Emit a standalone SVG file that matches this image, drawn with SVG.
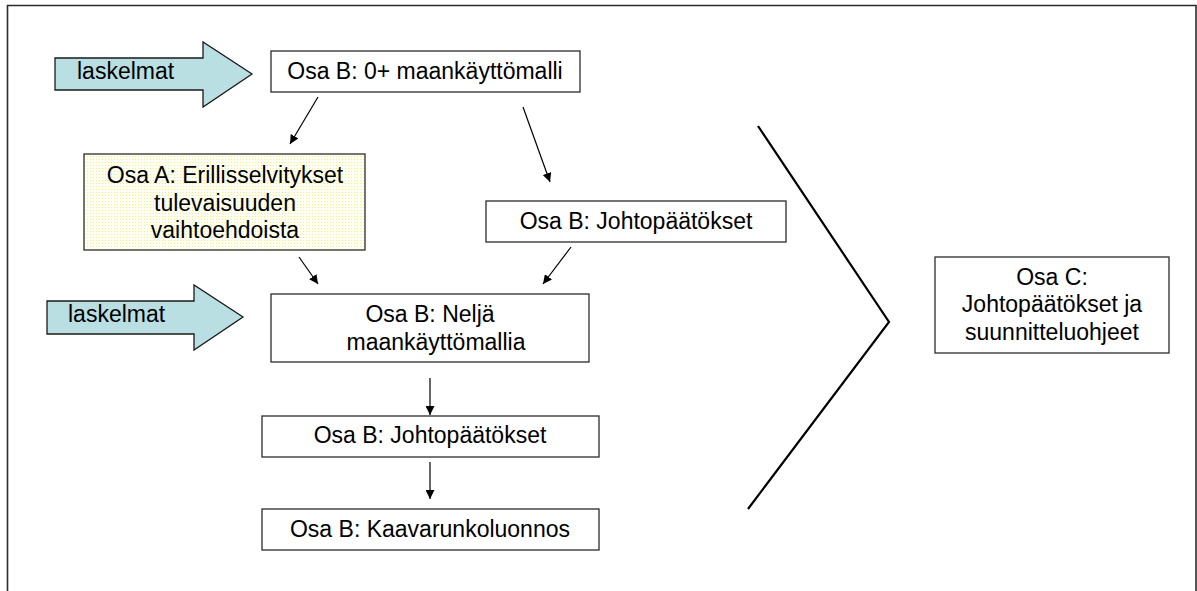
<svg xmlns="http://www.w3.org/2000/svg" width="1197" height="591" viewBox="0 0 1197 591">
<style>
.box{fill:#fff;stroke:#2b2b2b;stroke-width:1.3}
.t{font-family:"Liberation Sans",Arial,sans-serif;font-size:23px;fill:#000;text-anchor:middle}
.tl{font-family:"Liberation Sans",Arial,sans-serif;font-size:23px;fill:#000}
.big{fill:#B9DFE2;stroke:#1a1a1a;stroke-width:1.3}
.con{stroke:#000;stroke-width:1.2;fill:none;marker-end:url(#ah)}
</style>
<defs>
<marker id="ah" viewBox="0 0 10 10" refX="10" refY="5" markerWidth="9" markerHeight="9" markerUnits="userSpaceOnUse" orient="auto">
<path d="M0,0 L10,5 L0,10 z" fill="#000"/>
</marker>
<pattern id="dots" width="3" height="3" patternUnits="userSpaceOnUse">
<rect width="3" height="3" fill="#fffff4"/>
<rect width="1" height="1" fill="#f2f28a"/>
</pattern>
</defs>
<rect width="1197" height="591" fill="#fff"/>
<path d="M7.5,592 V5.5 H1196 V592" fill="none" stroke="#2b2b2b" stroke-width="1.6"/>

<g id="laskelmat1">
<path class="big" d="M55,58 H203 V42 L252,74 L203,107 V90 H55 Z"/>
<text class="tl" x="77" y="79">laskelmat</text>
</g>
<g id="laskelmat2">
<path class="big" d="M47,301 H194 V285 L243,317 L194,350 V334 H47 Z"/>
<text class="tl" x="68" y="322">laskelmat</text>
</g>

<g id="b0">
<rect class="box" x="271" y="51" width="309" height="41"/>
<text class="t" x="425" y="79">Osa B: 0+ maankäyttömalli</text>
</g>
<g id="a">
<rect x="84" y="154" width="281" height="96" fill="url(#dots)" stroke="#2b2b2b" stroke-width="1.3"/>
<text class="t" x="225" y="183">Osa A: Erillisselvitykset</text>
<text class="t" x="225" y="211">tulevaisuuden</text>
<text class="t" x="225" y="238">vaihtoehdoista</text>
</g>
<g id="bj1">
<rect class="box" x="486" y="201" width="300" height="41"/>
<text class="t" x="636" y="229">Osa B: Johtopäätökset</text>
</g>
<g id="bn">
<rect class="box" x="271" y="294" width="318" height="68"/>
<text class="t" x="430" y="322">Osa B: Neljä</text>
<text class="t" x="436" y="350">maankäyttömallia</text>
</g>
<g id="bj2">
<rect class="box" x="262" y="416" width="337" height="41"/>
<text class="t" x="430" y="443">Osa B: Johtopäätökset</text>
</g>
<g id="bk">
<rect class="box" x="262" y="509" width="337" height="41"/>
<text class="t" x="430" y="537">Osa B: Kaavarunkoluonnos</text>
</g>
<g id="c">
<rect class="box" x="935" y="257" width="234" height="96"/>
<text class="t" x="1052" y="285">Osa C:</text>
<text class="t" x="1052" y="312">Johtopäätökset ja</text>
<text class="t" x="1052" y="340">suunnitteluohjeet</text>
</g>

<g id="connectors">
<line class="con" x1="318" y1="97" x2="290" y2="144"/>
<line class="con" x1="523" y1="107" x2="550" y2="182"/>
<line class="con" x1="299" y1="257" x2="318" y2="284"/>
<line class="con" x1="571" y1="247" x2="543" y2="284"/>
<line class="con" x1="430" y1="378" x2="430" y2="415"/>
<line class="con" x1="430" y1="462" x2="430" y2="499"/>
<path d="M758,126 L889,322 L748,509" fill="none" stroke="#000" stroke-width="2.2"/>
</g>
</svg>
